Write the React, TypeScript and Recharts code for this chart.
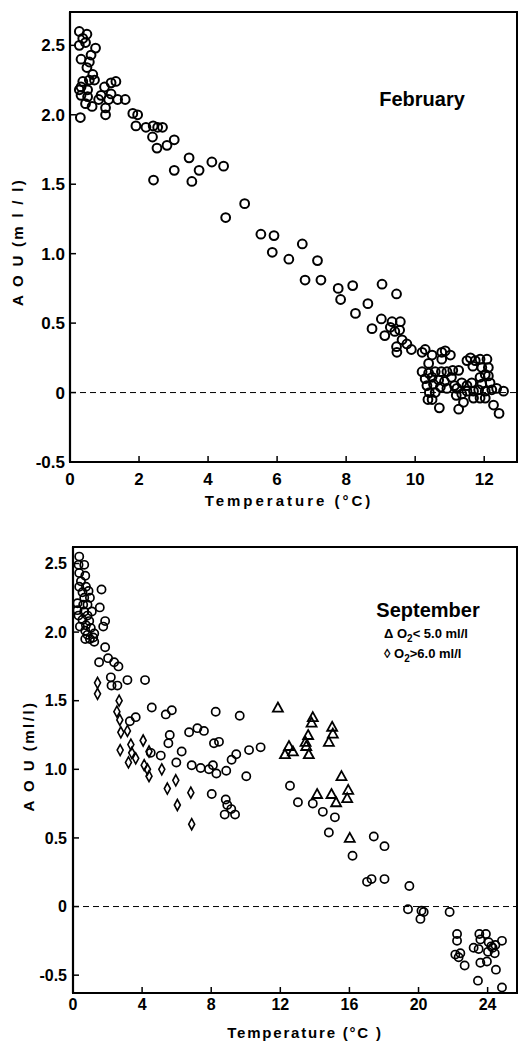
import React from 'react';
import { ScatterChart, Scatter, XAxis, YAxis, ReferenceLine, ReferenceArea, Customized } from 'recharts';

const FONT = '"Liberation Sans", Arial, Helvetica, sans-serif';

// ---------- February (top panel) ----------
const febXTicks = [0, 2, 4, 6, 8, 10, 12];
const febYTicks = [-0.5, 0, 0.5, 1, 1.5, 2, 2.5];
const febPoints: [number, number][] = [
  [0.27, 2.6], [0.49, 2.58], [0.27, 2.5], [0.37, 2.55], [0.45, 2.52], [0.74, 2.48], [0.32, 2.4], [0.56, 2.38],
  [0.61, 2.43], [0.49, 2.34], [0.66, 2.29], [0.71, 2.25], [0.56, 2.25], [0.37, 2.24], [0.32, 2.2], [0.27, 2.18],
  [0.51, 2.18], [0.32, 2.14], [0.51, 2.13], [0.45, 2.08], [0.64, 2.06], [0.83, 2.11], [1.0, 2.2], [1.19, 2.23],
  [1.33, 2.24], [1.19, 2.15], [1.12, 2.11], [1.38, 2.11], [1.6, 2.11], [0.9, 2.14], [1.03, 2.05], [1.03, 2.0],
  [0.3, 1.98], [1.82, 2.01], [1.96, 2.0], [1.91, 1.92], [2.2, 1.91], [2.41, 1.92], [2.54, 1.91], [2.68, 1.91],
  [2.39, 1.84], [2.52, 1.76], [2.81, 1.78], [3.02, 1.82], [2.42, 1.53], [3.02, 1.6], [3.45, 1.69], [3.53, 1.52],
  [3.74, 1.6], [4.11, 1.66], [4.45, 1.63], [4.51, 1.26], [5.06, 1.36], [5.53, 1.14], [5.91, 1.13], [6.73, 1.07],
  [5.86, 1.01], [6.34, 0.96], [7.17, 0.95], [6.81, 0.81], [7.27, 0.81], [7.77, 0.75], [8.19, 0.77], [7.84, 0.67],
  [9.04, 0.78], [9.46, 0.71], [8.63, 0.64], [8.27, 0.57], [9.02, 0.53], [9.33, 0.51], [9.57, 0.51], [8.75, 0.46],
  [9.28, 0.47], [9.55, 0.45], [9.12, 0.41], [9.41, 0.44], [9.62, 0.38], [9.76, 0.35], [9.46, 0.33], [9.89, 0.31],
  [9.47, 0.29], [10.2, 0.29], [10.29, 0.31], [10.49, 0.27], [10.39, 0.21], [10.77, 0.29], [10.87, 0.3], [11.02, 0.27],
  [10.77, 0.24], [10.2, 0.15], [10.39, 0.14], [10.58, 0.15], [10.76, 0.15], [10.92, 0.15], [11.09, 0.16], [11.26, 0.16],
  [10.29, 0.1], [10.49, 0.11], [10.68, 0.09], [10.85, 0.08], [11.05, 0.11], [10.34, 0.05], [10.53, 0.06], [10.73, 0.04],
  [10.92, 0.03], [11.14, 0.05], [10.41, 0.0], [10.58, 0.0], [10.37, -0.05], [10.49, -0.05], [10.7, -0.11], [11.19, -0.02],
  [11.26, -0.12], [11.4, -0.07], [11.35, 0.07], [11.5, 0.05], [11.64, 0.07], [11.5, 0.01], [11.69, 0.01], [11.6, 0.25],
  [11.74, 0.23], [11.88, 0.24], [12.08, 0.24], [11.5, 0.23], [11.67, 0.19], [11.93, 0.18], [12.12, 0.18], [12.03, 0.13],
  [11.88, 0.11], [12.12, 0.12], [11.93, 0.06], [12.17, 0.07], [11.84, 0.02], [12.03, 0.01], [12.22, 0.02], [12.36, 0.03],
  [12.56, 0.01], [11.69, -0.04], [11.88, -0.04], [12.03, -0.04], [12.27, -0.09], [12.43, -0.15], [11.35, -0.01], [11.21, 0.03],
];

// ---------- September (bottom panel) ----------
const sepXTicks = [0, 4, 8, 12, 16, 20, 24];
const sepYTicks = [-0.5, 0, 0.5, 1, 1.5, 2, 2.5];
const sepCircles: [number, number][] = [
  [0.36, 2.55], [0.65, 2.49], [0.32, 2.49], [0.36, 2.43], [0.71, 2.41], [0.46, 2.37], [0.36, 2.33], [0.75, 2.33],
  [0.9, 2.3], [1.65, 2.31], [0.55, 2.29], [0.98, 2.25], [0.65, 2.25], [0.26, 2.21], [0.59, 2.2], [0.84, 2.2],
  [1.55, 2.18], [0.26, 2.16], [0.65, 2.15], [1.09, 2.15], [0.32, 2.12], [0.84, 2.12], [0.55, 2.09], [0.94, 2.08],
  [1.86, 2.08], [1.75, 2.04], [0.4, 2.04], [0.75, 2.05], [1.03, 2.03], [0.71, 2.01], [1.23, 1.99], [0.84, 1.98],
  [0.71, 1.95], [1.17, 1.96], [0.98, 1.95], [1.23, 1.93], [1.86, 1.89], [1.51, 1.78], [2.03, 1.81], [2.38, 1.78],
  [2.63, 1.75], [2.19, 1.67], [2.23, 1.61], [2.57, 1.61], [3.15, 1.65], [4.17, 1.65], [4.56, 1.45], [5.37, 1.4],
  [5.72, 1.43], [3.63, 1.38], [3.29, 1.35], [5.6, 1.25], [5.52, 1.19], [8.26, 1.42], [6.72, 1.27], [7.2, 1.3],
  [7.58, 1.28], [8.16, 1.19], [8.45, 1.2], [6.29, 1.13], [5.08, 1.1], [4.5, 1.12], [5.98, 1.05], [6.87, 1.03],
  [7.39, 1.01], [7.87, 1.0], [8.1, 1.03], [8.3, 0.97], [8.87, 0.99], [9.65, 1.39], [9.45, 1.11], [9.18, 1.07],
  [10.19, 1.14], [10.86, 1.16], [10.03, 0.95], [8.03, 0.82], [8.84, 0.78], [8.93, 0.74], [9.16, 0.71], [8.78, 0.67],
  [9.38, 0.67], [12.56, 0.88], [13.02, 0.76], [13.88, 0.75], [14.46, 0.69], [15.16, 0.65], [14.81, 0.54], [16.18, 0.37],
  [17.41, 0.51], [18.03, 0.44], [17.02, 0.18], [17.28, 0.2], [18.03, 0.2], [19.47, 0.15], [19.39, -0.02], [20.17, -0.03],
  [20.3, -0.04], [20.11, -0.09], [21.8, -0.04], [22.23, -0.2], [22.23, -0.25], [22.13, -0.35], [22.42, -0.34], [22.32, -0.37],
  [22.67, -0.43], [23.52, -0.2], [23.9, -0.2], [23.58, -0.24], [23.19, -0.3], [23.48, -0.31], [24.06, -0.26], [24.21, -0.29],
  [24.45, -0.28], [24.83, -0.25], [24.02, -0.33], [24.41, -0.34], [24.29, -0.3], [23.58, -0.41], [23.96, -0.4], [24.48, -0.46],
  [23.44, -0.54], [24.83, -0.59],
];
const sepTriangles: [number, number][] = [
  [11.86, 1.45], [13.88, 1.38], [13.81, 1.34], [15.0, 1.31], [15.04, 1.26], [14.81, 1.2], [13.61, 1.25], [13.46, 1.2],
  [13.5, 1.17], [13.65, 1.11], [12.5, 1.17], [12.73, 1.13], [12.27, 1.11], [15.54, 0.95], [15.93, 0.85], [14.13, 0.82],
  [14.96, 0.82], [15.23, 0.76], [15.87, 0.79], [16.02, 0.5],
];
const sepDiamonds: [number, number][] = [
  [1.42, 1.63], [1.42, 1.55], [2.67, 1.5], [2.54, 1.42], [2.71, 1.36], [2.77, 1.27], [3.15, 1.28], [3.35, 1.18],
  [2.73, 1.14], [3.4, 1.12], [3.63, 1.08], [3.21, 1.05], [4.06, 1.21], [4.4, 1.13], [4.12, 1.03], [4.31, 1.0],
  [4.4, 0.95], [5.14, 1.0], [5.46, 0.86], [5.95, 0.92], [6.04, 0.74], [6.82, 0.83], [6.87, 0.6],
];

const toRows = (pts: [number, number][]) => pts.map(([x, y]) => ({ x, y }));
const fmtY = (v: number) => (v === 0 ? '0' : v.toFixed(1));

const CircleShape = (p: any) => (
  <circle cx={p.cx} cy={p.cy} r={4.4} fill="none" stroke="#000" strokeWidth={2} />
);
const SmallCircleShape = (p: any) => (
  <circle cx={p.cx} cy={p.cy} r={4.1} fill="none" stroke="#000" strokeWidth={1.7} />
);
const TriangleShape = (p: any) => (
  <path
    d={`M${p.cx},${p.cy - 5} L${p.cx + 5},${p.cy + 4} L${p.cx - 5},${p.cy + 4} Z`}
    fill="none"
    stroke="#000"
    strokeWidth={1.8}
  />
);
const DiamondShape = (p: any) => (
  <path
    d={`M${p.cx},${p.cy - 5.5} L${p.cx + 3},${p.cy} L${p.cx},${p.cy + 5.5} L${p.cx - 3},${p.cy} Z`}
    fill="none"
    stroke="#000"
    strokeWidth={1.6}
  />
);

const axisLine = { stroke: '#000', strokeWidth: 2.2 };
const tickLine = { stroke: '#000', strokeWidth: 1.5 };
const tickStyle = (size: number) => ({ fill: '#000', fontSize: size, fontWeight: 700, fontFamily: FONT });

const FebText = () => (
  <g fontFamily={FONT} fill="#000">
    <text x={422} y={99} textAnchor="middle" dominantBaseline="central" fontSize={20} fontWeight={700}>
      February
    </text>
    <text x={289} y={500} textAnchor="middle" dominantBaseline="central" fontSize={15} fontWeight={700} letterSpacing={3}>
      Temperature  (°C)
    </text>
    <text
      x={17}
      y={242}
      transform="rotate(-90 17 242)"
      textAnchor="middle"
      dominantBaseline="central"
      fontSize={15}
      fontWeight={700}
      letterSpacing={2.3}
    >
      A O U  (m l / l)
    </text>
  </g>
);

const SepText = () => (
  <g fontFamily={FONT} fill="#000">
    <text x={428} y={90} textAnchor="middle" dominantBaseline="central" fontSize={20} fontWeight={700}>
      September
    </text>
    <text x={384} y={118} fontSize={13} fontWeight={700}>
      Δ O<tspan dy={4} fontSize={10}>2</tspan>
      <tspan dy={-4}>{'< 5.0 ml/l'}</tspan>
    </text>
    <text x={384} y={138} fontSize={13} fontWeight={700}>
      ◊ O<tspan dy={4} fontSize={10}>2</tspan>
      <tspan dy={-4}>{'>6.0 ml/l'}</tspan>
    </text>
    <text x={305} y={512} textAnchor="middle" dominantBaseline="central" fontSize={15} fontWeight={700} letterSpacing={1.8}>
      Temperature (°C )
    </text>
    <text
      x={28}
      y={236}
      transform="rotate(-90 28 236)"
      textAnchor="middle"
      dominantBaseline="central"
      fontSize={15}
      fontWeight={700}
      letterSpacing={2.5}
    >
      A O U (ml/l)
    </text>
  </g>
);

export default function App() {
  const febX: [number, number] = [0, 12.95];
  const febY: [number, number] = [-0.5, 2.74];
  const sepX: [number, number] = [0, 25.7];
  const sepY: [number, number] = [-0.63, 2.62];
  return (
    <div style={{ position: 'absolute', left: 0, top: 0, width: 518, height: 1042, background: '#fff' }}>
      <ScatterChart width={518} height={520} margin={{ top: 12, right: 1, bottom: 0, left: 0 }}>
        <XAxis
          type="number"
          dataKey="x"
          domain={febX}
          ticks={febXTicks}
          interval={0}
          allowDataOverflow
          height={58}
          axisLine={axisLine}
          tickLine={tickLine}
          tickSize={-6}
          tickMargin={17}
          tick={tickStyle(17)}
        />
        <YAxis
          type="number"
          dataKey="y"
          domain={febY}
          ticks={febYTicks}
          interval={0}
          allowDataOverflow
          width={70}
          axisLine={axisLine}
          tickLine={tickLine}
          tickSize={-6}
          tickMargin={11}
          tickFormatter={fmtY}
          tick={tickStyle(17)}
        />
        <ReferenceArea x1={febX[0]} x2={febX[1]} y1={febY[0]} y2={febY[1]} fill="none" stroke="#000" strokeWidth={2} />
        <ReferenceLine y={0} stroke="#000" strokeWidth={1} strokeDasharray="6 4" />
        <Scatter data={toRows(febPoints)} shape={CircleShape} isAnimationActive={false} />
        <Customized component={FebText} />
      </ScatterChart>
      <ScatterChart width={518} height={522} margin={{ top: 27, right: 1, bottom: 0, left: 0 }}>
        <XAxis
          type="number"
          dataKey="x"
          domain={sepX}
          ticks={sepXTicks}
          interval={0}
          allowDataOverflow
          height={49}
          axisLine={axisLine}
          tickLine={tickLine}
          tickSize={-6}
          tickMargin={12}
          tick={tickStyle(16)}
        />
        <YAxis
          type="number"
          dataKey="y"
          domain={sepY}
          ticks={sepYTicks}
          interval={0}
          allowDataOverflow
          width={73}
          axisLine={axisLine}
          tickLine={tickLine}
          tickSize={-6}
          tickMargin={12}
          tickFormatter={fmtY}
          tick={tickStyle(16)}
        />
        <ReferenceArea x1={sepX[0]} x2={sepX[1]} y1={sepY[0]} y2={sepY[1]} fill="none" stroke="#000" strokeWidth={2} />
        <ReferenceLine y={0} stroke="#000" strokeWidth={1} strokeDasharray="6 4" />
        <Scatter data={toRows(sepCircles)} shape={SmallCircleShape} isAnimationActive={false} />
        <Scatter data={toRows(sepTriangles)} shape={TriangleShape} isAnimationActive={false} />
        <Scatter data={toRows(sepDiamonds)} shape={DiamondShape} isAnimationActive={false} />
        <Customized component={SepText} />
      </ScatterChart>
    </div>
  );
}
